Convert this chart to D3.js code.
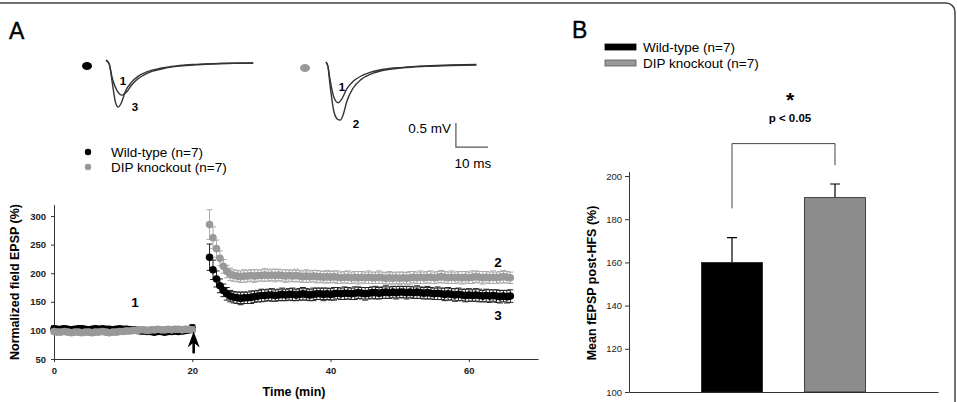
<!DOCTYPE html>
<html>
<head>
<meta charset="utf-8">
<script src="https://cdn.jsdelivr.net/npm/d3@7"></script>
<style>
  body { margin: 0; background: #fff; }
  svg { display: block; font-family: "Liberation Sans", Arial, sans-serif; }
</style>
</head>
<body>
<script>
// ---- data: panel A time course (0.5 min sampling) ----
const step = 0.5;
const baseStart = 0;      // min
const postStart = 22.5;   // min
const hfsTime = 20.2;     // arrow

const wtBase = [103,102,102,103,102,101,102,103,103,102,101,102,103,102,103,102,102,101,102,103,
                102,102,101,101,100,99,99,98,98,97,98,98,97,98,98,99,98,99,100,101,104];
const dipBase = [98,97,97,98,97,96,97,97,96,97,97,96,97,97,98,97,96,97,97,98,
                 98,99,99,100,100,101,101,100,101,101,102,101,101,102,101,102,102,101,102,102,101];
const wtBaseErr = [5,4,4,5,4,4,5,4,5,4,4,4,5,4,4,5,4,4,5,4,4,5,4,5,4,4,5,4,4,5,4,4,5,4,5,4,4,5,4,5,6];
const dipBaseErr = [4,5,4,4,5,4,4,5,4,4,5,4,5,4,4,5,4,4,5,4,4,5,4,4,5,4,4,5,4,5,4,4,5,4,4,5,4,4,5,4,5];

const wtPost = [228,206,190,178,170,164,160,158,
                157,156,157,157,158,159,160,161,
                161,162,162,161,162,163,162,163,
                163,162,163,164,163,162,163,164,
                164,163,164,163,164,165,164,165,
                165,164,165,166,165,164,165,166,
                166,165,166,167,166,167,166,167,
                167,166,167,166,167,166,165,166,
                165,164,165,164,163,164,163,162,
                163,162,161,162,161,162,161,160,
                161,160,161,160,159,160,159,160];
const dipPost = [285,262,243,226,212,203,198,196,
                 195,194,195,195,196,195,196,196,
                 197,196,197,196,197,196,195,196,
                 195,196,195,194,195,194,195,194,
                 194,193,194,193,194,193,192,193,
                 193,192,193,192,193,192,193,192,
                 192,193,192,191,192,191,192,191,
                 192,191,192,193,192,193,192,193,
                 193,192,193,194,193,192,193,192,
                 193,192,193,192,193,194,193,192,
                 193,192,193,192,193,194,193,192];
const wtPostErr = [23,17,14,12,11,11,10,10,
                   10,11,10,10,11,10,10,11,
                   10,10,11,10,10,11,10,10,
                   11,10,10,11,10,10,11,10,
                   10,11,10,10,11,10,10,11,
                   10,10,11,10,10,11,10,10,
                   11,10,10,11,10,10,11,10,
                   10,11,10,10,11,10,10,11,
                   10,10,11,10,11,11,10,11,
                   11,10,11,11,10,11,11,10,
                   11,11,10,11,11,10,11,11];
const dipPostErr = [26,19,15,13,12,11,11,10,
                    10,10,11,10,10,11,10,10,
                    11,10,10,11,10,10,11,10,
                    10,11,10,10,11,10,10,11,
                    10,10,11,10,10,11,10,10,
                    11,10,10,11,10,10,11,10,
                    10,11,10,10,11,10,10,11,
                    10,10,11,10,10,11,10,10,
                    11,10,10,11,10,10,11,10,
                    10,11,10,10,11,10,10,11,
                    10,10,11,10,10,11,10,10];

const xTicksA = [0, 20, 40, 60];
const yTicksA = [50, 100, 150, 200, 250, 300];

// ---- data: sample traces (ms, mV) ----
const wtTrace1 = [[0,0.04],[1,-0.04],[2,-0.35],[3.5,-0.6],[5,-0.69],[6.5,-0.62],[8,-0.48],[10,-0.35],
                  [13,-0.23],[17,-0.15],[22,-0.09],[28,-0.06],[36,-0.03],[46,-0.02]];
const wtTrace3 = [[0,0.04],[1,-0.04],[2,-0.45],[3,-0.85],[3.8,-0.94],[4.8,-0.85],[6,-0.62],[8,-0.42],
                  [10,-0.3],[13,-0.2],[17,-0.13],[22,-0.08],[28,-0.05],[36,-0.03],[46,-0.02]];
const dipTrace1 = [[0,0.04],[0.6,-0.05],[1.2,-0.3],[2.5,-0.7],[3.8,-0.81],[5,-0.72],[6.5,-0.52],[8.5,-0.36],
                   [11,-0.25],[14,-0.17],[18,-0.11],[24,-0.07],[31,-0.04],[39,-0.02],[47,-0.01]];
const dipTrace2 = [[0,0.04],[0.6,-0.05],[1.2,-0.4],[2.5,-1.0],[3.6,-1.15],[4.4,-1.17],[5.4,-1.05],[6.5,-0.78],
                   [8.5,-0.5],[11,-0.32],[14,-0.21],[18,-0.13],[24,-0.08],[31,-0.05],[39,-0.03],[47,-0.02]];
const scaleBarAt = [40.6, -1.73];   // ms, mV corner of scale bar
const scaleBarSize = [10, 0.5];     // 10 ms, 0.5 mV

// ---- data: panel B ----
const groups = ["Wild-type (n=7)", "DIP knockout (n=7)"];
const means = [160, 190];
const sems = [11.5, 6.3];
const yTicksB = [100, 120, 140, 160, 180, 200];
const bracket = { top: 215, left: 185, right: 205 };

const colWT = "#000";
const colDIP = "#999";

const svg = d3.select("body").append("svg")
    .attr("width", 957)
    .attr("height", 402);

// frame
svg.append("rect")
    .attr("x", -20).attr("y", 3)
    .attr("width", 975).attr("height", 450)
    .attr("rx", 9)
    .attr("fill", "none")
    .attr("stroke", "#444")
    .attr("stroke-width", 1.5);

// panel letters
svg.append("text").attr("x", 9).attr("y", 39).attr("font-size", 23).attr("stroke", "#000").attr("stroke-width", 0.4).text("A");
svg.append("text").attr("x", 572).attr("y", 38).attr("font-size", 23).attr("stroke", "#000").attr("stroke-width", 0.4).text("B");

// ---------- traces ----------
const xT1 = d3.scaleLinear().domain([0, 46]).range([106, 106 + 46 * 3.2]);
const yT1 = d3.scaleLinear().domain([0, -1]).range([62, 110]);
const xT2 = d3.scaleLinear().domain([0, 47]).range([326, 326 + 47 * 3.2]);
const yT2 = d3.scaleLinear().domain([0, -1]).range([64, 112]);

function drawTrace(pts, xs, ys) {
  const line = d3.line().x(d => xs(d[0])).y(d => ys(d[1])).curve(d3.curveMonotoneX);
  svg.append("path").attr("d", line(pts))
      .attr("fill", "none").attr("stroke", "#333").attr("stroke-width", 1.4);
}
drawTrace(wtTrace1, xT1, yT1);
drawTrace(wtTrace3, xT1, yT1);
drawTrace(dipTrace1, xT2, yT2);
drawTrace(dipTrace2, xT2, yT2);

svg.append("ellipse").attr("cx", 87).attr("cy", 66).attr("rx", 5).attr("ry", 4).attr("fill", colWT);
svg.append("ellipse").attr("cx", 305).attr("cy", 68).attr("rx", 5).attr("ry", 4).attr("fill", colDIP);

const traceLab = svg.append("g").attr("font-size", 11.5).attr("font-weight", "bold").attr("text-anchor", "middle");
traceLab.append("text").attr("x", 123).attr("y", 85).text("1");
traceLab.append("text").attr("x", 135).attr("y", 111).text("3");
traceLab.append("text").attr("x", 342).attr("y", 91).text("1");
traceLab.append("text").attr("x", 356).attr("y", 128).text("2");

// scale bar
const sbx = xT2(scaleBarAt[0]), sby = yT2(scaleBarAt[1]);
const sbw = xT2(scaleBarAt[0] + scaleBarSize[0]) - sbx;
const sbh = yT2(scaleBarAt[1]) - yT2(scaleBarAt[1] + scaleBarSize[1]);
svg.append("path")
    .attr("d", `M${sbx},${sby - sbh}V${sby}H${sbx + sbw}`)
    .attr("fill", "none").attr("stroke", "#555").attr("stroke-width", 1.2);
svg.append("text").attr("x", sbx - 5).attr("y", sby - 14).attr("text-anchor", "end")
    .attr("font-size", 13.5).text("0.5 mV");
svg.append("text").attr("x", sbx + sbw / 2 + 1).attr("y", sby + 21).attr("text-anchor", "middle")
    .attr("font-size", 13.5).text("10 ms");

// legend A
const legA = svg.append("g").attr("font-size", 13.5);
[[colWT, groups[0], 152], [colDIP, groups[1], 167]].forEach(d => {
  legA.append("circle").attr("cx", 88).attr("cy", d[2]).attr("r", 3.2).attr("fill", d[0]);
  legA.append("text").attr("x", 111).attr("y", d[2] + 5).text(d[1]);
});

// ---------- time course ----------
const xA = d3.scaleLinear().domain([0, 70]).range([54, 538]);
const yA = d3.scaleLinear().domain([50, 320]).range([359, 204.6]);

svg.append("g").attr("transform", "translate(0,359)")
    .call(d3.axisBottom(xA).tickValues(xTicksA).tickSize(3).tickSizeOuter(0).tickPadding(5))
    .call(g => g.selectAll("text").attr("font-size", 9.5).attr("font-weight", "bold").attr("fill", "#222"))
    .call(g => g.selectAll("path,line").attr("stroke", "#333"));
svg.append("g").attr("transform", "translate(54,0)")
    .call(d3.axisLeft(yA).tickValues(yTicksA).tickSize(3).tickSizeOuter(0).tickPadding(5))
    .call(g => g.selectAll("text").attr("font-size", 9.5).attr("font-weight", "bold").attr("fill", "#222"))
    .call(g => g.selectAll("path,line").attr("stroke", "#333"));

svg.append("text").attr("x", 294).attr("y", 396).attr("text-anchor", "middle")
    .attr("font-size", 12.5).attr("font-weight", "bold").text("Time (min)");
svg.append("text").attr("transform", "translate(19,282) rotate(-90)").attr("text-anchor", "middle")
    .attr("font-size", 12.5).attr("font-weight", "bold").text("Normalized field EPSP (%)");

function series(base, baseErr, post, postErr) {
  return base.map((v, i) => ({ t: baseStart + i * step, v, e: baseErr[i] }))
    .concat(post.map((v, i) => ({ t: postStart + i * step, v, e: postErr[i] })));
}
const wtData = series(wtBase, wtBaseErr, wtPost, wtPostErr);
const dipData = series(dipBase, dipBaseErr, dipPost, dipPostErr);

function drawSeries(data, col, errCol) {
  const g = svg.append("g");
  g.selectAll("path.err").data(data).join("path")
      .attr("d", d => {
        const x = xA(d.t), y0 = yA(d.v - d.e), y1 = yA(d.v + d.e);
        return `M${x},${y0}V${y1}M${x - 3},${y0}h6M${x - 3},${y1}h6`;
      })
      .attr("stroke", errCol).attr("stroke-width", 1).attr("fill", "none");
  g.selectAll("circle").data(data).join("circle")
      .attr("cx", d => xA(d.t)).attr("cy", d => yA(d.v)).attr("r", 3.8)
      .attr("fill", col);
}
drawSeries(wtData, colWT, "#222");
drawSeries(dipData, colDIP, "#aaa");

// HFS arrow
const ax = xA(hfsTime), ay = yA(100) + 1;
svg.append("path")
    .attr("d", `M${ax},${ay}L${ax - 6},${ay + 16}L${ax},${ay + 11}L${ax + 6},${ay + 16}Z`)
    .attr("fill", "#000");
svg.append("line").attr("x1", ax).attr("x2", ax).attr("y1", ay + 8).attr("y2", ay + 22)
    .attr("stroke", "#000").attr("stroke-width", 2.6);

const numLab = svg.append("g").attr("font-size", 13.5).attr("font-weight", "bold").attr("text-anchor", "middle");
numLab.append("text").attr("x", 135).attr("y", 307).text("1");
numLab.append("text").attr("x", 498).attr("y", 267).text("2");
numLab.append("text").attr("x", 498).attr("y", 320).text("3");

// ---------- panel B ----------
const xB = d3.scalePoint().domain(groups).range([629, 938]).padding(1);
const yB = d3.scaleLinear().domain([100, 202]).range([392, 171.7]);
const barW = 61;

svg.append("g").attr("transform", "translate(629,0)")
    .call(d3.axisLeft(yB).tickValues(yTicksB).tickSize(4).tickSizeOuter(0).tickPadding(3))
    .call(g => g.selectAll("text").attr("font-size", 9.5).attr("fill", "#222"))
    .call(g => g.selectAll("path,line").attr("stroke", "#333"));
svg.append("g").attr("transform", "translate(0,392)")
    .call(d3.axisBottom(xB).tickValues([]).tickSizeOuter(0))
    .call(g => g.selectAll("path").attr("stroke", "#333"));

svg.append("text").attr("transform", "translate(596,283) rotate(-90)").attr("text-anchor", "middle")
    .attr("font-size", 12.5).attr("font-weight", "bold").text("Mean fEPSP post-HFS (%)");

const barCols = [colWT, "#8c8c8c"];
groups.forEach((g, i) => {
  const cx = xB(g);
  svg.append("path")
      .attr("d", `M${cx},${yB(means[i])}V${yB(means[i] + sems[i])}M${cx - 5},${yB(means[i] + sems[i])}h10`)
      .attr("stroke", "#000").attr("stroke-width", 1.2).attr("fill", "none");
  svg.append("rect")
      .attr("x", cx - barW / 2).attr("y", yB(means[i]))
      .attr("width", barW).attr("height", yB(100) - yB(means[i]))
      .attr("fill", barCols[i]).attr("stroke", "#222").attr("stroke-width", 0.8);
});

// significance bracket
const bl = xB(groups[0]), br = xB(groups[1]);
svg.append("path")
    .attr("d", `M${bl},${yB(bracket.left)}V${yB(bracket.top)}H${br}V${yB(bracket.right)}`)
    .attr("fill", "none").attr("stroke", "#444").attr("stroke-width", 1);
svg.append("text").attr("x", 790).attr("y", 107).attr("text-anchor", "middle")
    .attr("font-size", 21).attr("font-weight", "bold").text("*");
svg.append("text").attr("x", 790).attr("y", 122).attr("text-anchor", "middle")
    .attr("font-size", 11.5).attr("font-weight", "bold").text("p < 0.05");

// legend B
const legB = svg.append("g").attr("font-size", 13.5);
[[colWT, "#000", 44], ["#999", "#555", 60]].forEach((d, i) => {
  legB.append("rect").attr("x", 605).attr("y", d[2]).attr("width", 31).attr("height", 6)
      .attr("fill", d[0]).attr("stroke", d[1]).attr("stroke-width", 0.8);
  legB.append("text").attr("x", 643).attr("y", d[2] + 8).text(groups[i]);
});
</script>
</body>
</html>
